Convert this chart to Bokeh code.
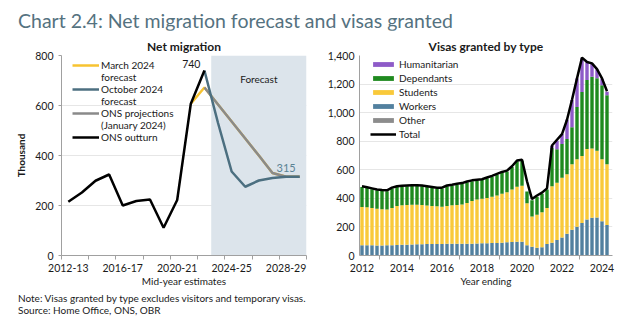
import math
from bokeh.plotting import figure
from bokeh.models import (FixedTicker, Legend, LegendItem, Label, BoxAnnotation, Div,
                          NumeralTickFormatter, Range1d, ColumnDataSource)
from bokeh.layouts import column, row
from bokeh.embed import file_html
from bokeh.resources import INLINE

FONT = "Lato"

# ---------------- Left panel data: Net migration (thousand) ----------------
years = ["2012-13", "2013-14", "2014-15", "2015-16", "2016-17", "2017-18", "2018-19",
         "2019-20", "2020-21", "2021-22", "2022-23", "2023-24", "2024-25", "2025-26",
         "2026-27", "2027-28", "2028-29", "2029-30"]
ons_outturn = [215, 252, 299, 324, 200, 218, 224, 111, 222, 607, 740,
               None, None, None, None, None, None, None]
march_2024 = [None, None, None, None, None, None, None, None, None, 607, 672,
              604, 536, 468, 400, 330, 315, 315]
october_2024 = [None, None, None, None, None, None, None, None, None, None, 740,
                530, 336, 275, 300, 310, 315, 315]
ons_projections = [None, None, None, None, None, None, None, None, None, None, 672,
                   604, 536, 468, 400, 330, 315, 315]
forecast_start = "2023-24"
year_tick_labels = ["2012-13", "2016-17", "2020-21", "2024-25", "2028-29"]

# ---------------- Right panel data: Visas granted by type (thousand) ----------------
year_labels = ["2012", "2014", "2016", "2018", "2020", "2022", "2024"]
quarters = [f"{y} Q{q}" for y in range(2012, 2025) for q in range(1, 5)][:50]
workers = [70, 70, 70, 68, 68, 70, 70, 72, 73, 74, 75, 76, 77, 78, 78, 78,
           79, 80, 80, 80, 80, 81, 81, 82, 83, 84, 85, 86, 88, 90, 92, 94,
           95, 70, 60, 52, 55, 78, 88, 106, 124, 150, 178, 200, 225, 250, 262, 264,
           238, 212]
students = [267, 265, 260, 257, 254, 250, 260, 273, 277, 278, 278, 278, 275, 270, 267, 264,
            261, 265, 270, 272, 275, 284, 299, 308, 312, 316, 325, 332, 342, 350, 368, 386,
            391, 293, 211, 231, 245, 252, 395, 401, 418, 416, 458, 472, 470, 493, 485, 467,
            434, 424]
dependants = [140, 135, 132, 129, 128, 128, 137, 132, 130, 130, 131, 130, 130, 129, 127, 125,
              127, 137, 137, 142, 144, 145, 138, 132, 131, 138, 139, 145, 147, 146, 157, 177,
              176, 83, 114, 127, 130, 130, 267, 235, 236, 247, 260, 365, 448, 483, 502, 507,
              518, 484]
humanitarian = [0, 0, 0, 0, 0, 0, 0, 0, 0, 0, 0, 0, 0, 0, 0, 0,
                0, 0, 0, 0, 0, 0, 0, 0, 0, 0, 0, 0, 0, 0, 0, 0,
                0, 0, 0, 0, 0, 0, 15, 60, 70, 135, 190, 200, 235, 125, 92, 62,
                45, 25]
other = [2, 2, 2, 2, 2, 2, 2, 2, 2, 2, 2, 2, 2, 2, 2, 2,
         2, 2, 2, 2, 2, 2, 2, 2, 2, 2, 2, 2, 2, 2, 2, 2,
         2, 2, 2, 2, 2, 2, 2, 2, 2, 2, 2, 2, 2, 2, 2, 2,
         2, 2]
total = [485, 478, 470, 462, 458, 456, 475, 485, 488, 490, 492, 492, 490, 485, 480, 475,
         475, 490, 495, 502, 507, 518, 526, 530, 534, 546, 557, 571, 585, 594, 625, 665,
         670, 520, 395, 420, 440, 470, 770, 810, 850, 950, 1090, 1240, 1385, 1355, 1345, 1305,
         1240, 1150]

# colours
C_YELLOW = "#F7C331"
C_SLATE = "#4C6F80"
C_GREY = "#8A8A8A"
C_SHADE = "#DCE4EB"
C_HUM = "#8E5BC8"
C_DEP = "#1F8A1F"
C_STU = "#F9C93A"
C_WRK = "#52809F"
C_OTH = "#8C8C8C"
TXT = "#1A1A1A"

FIG_H = 263
BORDER_TOP = 25
BORDER_BOTTOM = 38
FRAME_H = 197  # intended frame height (bottom border fixed at 38)


def nanify(vals):
    return [float("nan") if v is None else v for v in vals]


def style_axes(p):
    for ax in (p.xaxis[0], p.yaxis[0]):
        ax.major_label_text_font = FONT
        ax.major_label_text_font_size = "10.5px"
        ax.major_label_text_color = TXT
        ax.axis_label_text_font = FONT
        ax.axis_label_text_font_size = "10px"
        ax.axis_label_text_font_style = "normal"
        ax.axis_label_text_color = TXT
        ax.axis_line_color = "#A0A0A0"
        ax.major_tick_line_color = "#A0A0A0"
        ax.minor_tick_line_color = "#A0A0A0"
        ax.major_tick_in = 0
        ax.minor_tick_in = 0
    p.xaxis.major_tick_line_color = None
    p.xaxis.major_tick_out = 4
    p.xaxis.major_label_standoff = 4
    p.xaxis.minor_tick_out = 4
    p.xaxis.axis_label_standoff = 0
    p.xgrid.grid_line_color = None
    p.ygrid.grid_line_color = "#E6E6E6"
    p.outline_line_color = None
    p.title.text_font = FONT
    p.title.text_font_size = "12px"
    p.title.text_font_style = "bold"
    p.title.text_color = TXT
    p.title.align = "center"
    p.title.standoff = 4


def make_legend(items, x, n_rows, row_h, spacing, padding, top_gap):
    height = 2 * padding + n_rows * row_h + (n_rows - 1) * spacing
    leg = Legend(items=items, location=(x, FRAME_H - top_gap - height))
    leg.label_text_font = FONT
    leg.label_text_font_size = "10px"
    leg.label_text_color = TXT
    leg.label_height = row_h
    leg.spacing = spacing
    leg.margin = 0
    leg.padding = padding
    leg.background_fill_alpha = 0
    leg.border_line_alpha = 0
    return leg


# ---------------- Left figure ----------------
xi = list(range(len(years)))
p1 = figure(width=318, height=FIG_H, x_range=Range1d(-0.5, len(years) - 0.5),
            y_range=Range1d(0, 800), output_backend="svg", toolbar_location=None,
            min_border_left=61, min_border_right=12, min_border_top=BORDER_TOP,
            min_border_bottom=BORDER_BOTTOM, title="Net migration")
style_axes(p1)
p1.add_layout(BoxAnnotation(left=years.index(forecast_start) - 0.5, fill_color=C_SHADE,
                            fill_alpha=1.0, line_color=None, level="underlay"))
r_mar = p1.line(xi, nanify(march_2024), line_color=C_YELLOW, line_width=2.5)
r_proj = p1.line(xi, nanify(ons_projections), line_color=C_GREY, line_width=2.5)
r_oct = p1.line(xi, nanify(october_2024), line_color=C_SLATE, line_width=2.5)
r_out = p1.line(xi, nanify(ons_outturn), line_color="black", line_width=2.5)
r_blank = p1.line([], [], line_alpha=0)  # for legend continuation lines

lab_idx = [years.index(y) for y in year_tick_labels]
p1.xaxis.ticker = FixedTicker(ticks=lab_idx,
                              minor_ticks=[i - 0.5 for i in range(0, len(years) + 1, 2)])
p1.xaxis.major_label_overrides = {i: years[i] for i in lab_idx}
p1.xaxis.axis_label = "Mid-year estimates"
p1.yaxis.ticker = FixedTicker(ticks=[0, 200, 400, 600, 800])
p1.yaxis.minor_tick_line_color = None
p1.yaxis.major_tick_out = 3
p1.yaxis.axis_label = "Thousand"
p1.yaxis.axis_label_text_font_style = "bold"

peak_i = years.index("2022-23")
p1.add_layout(Label(x=peak_i, y=ons_outturn[peak_i], text=str(ons_outturn[peak_i]),
                    x_offset=-4, y_offset=3, text_align="right", text_baseline="bottom",
                    text_font=FONT, text_font_size="10.5px", text_color=TXT))
end_i = years.index("2028-29")
p1.add_layout(Label(x=end_i, y=october_2024[end_i], text=str(october_2024[end_i]),
                    y_offset=5, text_align="center", text_baseline="bottom",
                    text_font=FONT, text_font_size="11px", text_color="#5A8294"))
p1.add_layout(Label(x=14, y=705, text="Forecast", text_align="center",
                    text_baseline="middle", text_font=FONT, text_font_size="10px",
                    text_color=TXT))

leg1 = make_legend([
    LegendItem(label="March 2024", renderers=[r_mar]),
    LegendItem(label="forecast", renderers=[r_blank]),
    LegendItem(label="October 2024", renderers=[r_oct]),
    LegendItem(label="forecast", renderers=[r_blank]),
    LegendItem(label="ONS projections", renderers=[r_proj]),
    LegendItem(label="(January 2024)", renderers=[r_blank]),
    LegendItem(label="ONS outturn", renderers=[r_out]),
], x=8, n_rows=7, row_h=12, spacing=0, padding=3, top_gap=-2)
leg1.glyph_width = 27
leg1.glyph_height = 12
leg1.label_standoff = 2
p1.add_layout(leg1)

# ---------------- Right figure ----------------
src = ColumnDataSource(dict(x=list(range(len(quarters))), other=other, workers=workers,
                            students=students, dependants=dependants,
                            humanitarian=humanitarian, total=total))
p2 = figure(width=316, height=FIG_H, x_range=Range1d(-0.5, len(quarters) + 0.1),
            y_range=Range1d(0, 1400), output_backend="svg", toolbar_location=None,
            min_border_left=41, min_border_right=22, min_border_top=BORDER_TOP,
            min_border_bottom=BORDER_BOTTOM, title="Visas granted by type")
style_axes(p2)
stack_keys = ["other", "workers", "students", "dependants", "humanitarian"]
stack_cols = [C_OTH, C_WRK, C_STU, C_DEP, C_HUM]
rs = p2.vbar_stack(stack_keys, x="x", width=0.68, color=stack_cols, source=src,
                   line_color=None)
r_tot = p2.line("x", "total", source=src, line_color="black", line_width=2.5)

q_lab_idx = [quarters.index(f"{y} Q1") for y in year_labels]
p2.xaxis.ticker = FixedTicker(ticks=q_lab_idx,
                              minor_ticks=[i + 3.5 for i in q_lab_idx[:-1]])
p2.xaxis.major_label_overrides = {i: quarters[i][:4] for i in q_lab_idx}
p2.xaxis.axis_label = "Year ending"
p2.yaxis.ticker = FixedTicker(ticks=list(range(0, 1401, 200)))
p2.yaxis.formatter = NumeralTickFormatter(format="0,0")
p2.yaxis.minor_tick_line_color = None
p2.yaxis.major_tick_out = 0

names = {"humanitarian": "Humanitarian", "dependants": "Dependants", "students": "Students",
         "workers": "Workers", "other": "Other"}
items2 = [LegendItem(label=names[k], renderers=[rs[stack_keys.index(k)]])
          for k in ["humanitarian", "dependants", "students", "workers", "other"]]
items2.append(LegendItem(label="Total", renderers=[r_tot]))
leg2 = make_legend(items2, x=9, n_rows=6, row_h=12, spacing=2, padding=2, top_gap=-2)
leg2.glyph_width = 26
leg2.glyph_height = 6
leg2.label_standoff = 3
p2.add_layout(leg2)

# ---------------- Page text ----------------
title_div = Div(text='<span style="position:relative; top:11px; line-height:20px;">'
                     'Chart 2.4: Net migration forecast and visas granted</span>',
                width=634, height=30, margin=(0, 0, 0, 0),
                styles={"font-family": FONT, "font-size": "19.5px", "color": "#55727F",
                        "padding-left": "18px", "line-height": "20px",
                        "white-space": "nowrap", "overflow": "visible"})
note_div = Div(text="Note: Visas granted by type excludes visitors and temporary visas.<br>"
                    "Source: Home Office, ONS, OBR",
               width=634, height=42, margin=(0, 0, 0, 0),
               styles={"font-family": FONT, "font-size": "10px", "color": TXT,
                       "line-height": "11.5px", "padding-left": "18px", "padding-top": "0px",
                       "box-sizing": "border-box"})

layout = column(title_div, row(p1, p2), note_div)
open("out.html", "w").write(file_html(layout, INLINE))
